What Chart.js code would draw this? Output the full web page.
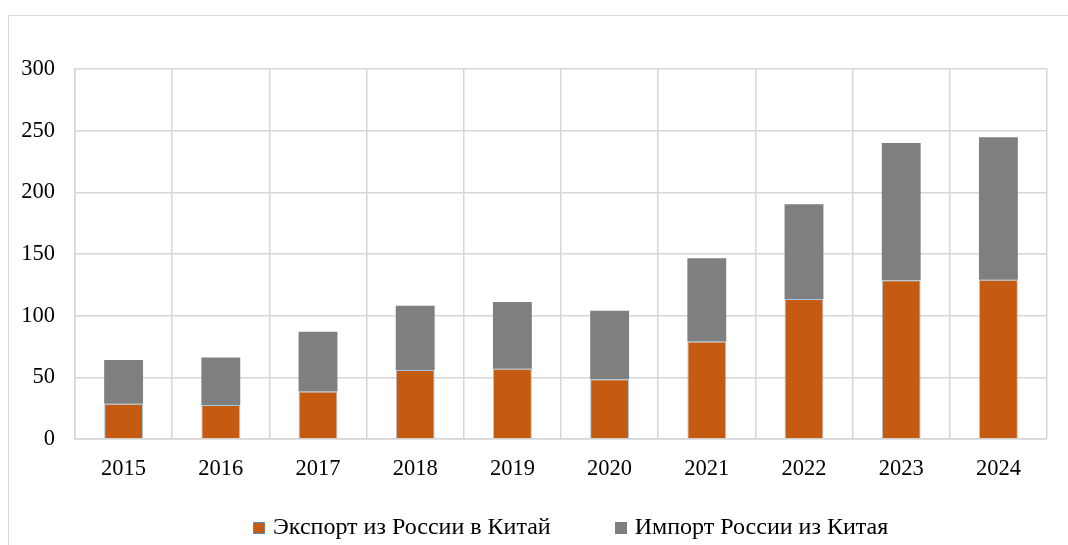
<!DOCTYPE html>
<html lang="ru">
<head>
<meta charset="utf-8">
<title>Торговля России и Китая</title>
<script src="https://cdn.jsdelivr.net/npm/chart.js@4/dist/chart.umd.min.js"></script>
<style>
    html, body {
        margin: 0;
        padding: 0;
        background: #fff;
        overflow: hidden;
    }
    #wrap {
        position: relative;
        width: 1068px;
        height: 545px;
    }
    /* the outer frame of the chart runs off the right and bottom edge */
    #frame {
        position: absolute;
        left: 8px;
        top: 15px;
        width: 1100px;
        height: 600px;
        border: 1px solid #d9d9d9;
        box-sizing: border-box;
    }
    #chart {
        position: absolute;
        left: 0;
        top: 0;
    }
    #legend {
        position: absolute;
        left: 253px;
        top: 513px;
        font-family: 'Liberation Serif';
        font-size: 24px;
        color: #000;
        white-space: nowrap;
    }
    #legend span.item {
        display: inline-block;
        margin-right: 64px;
    }
    #legend span.box {
        display: inline-block;
        width: 12px;
        height: 12px;
        margin-right: 8px;
        box-sizing: border-box;
    }
</style>
</head>
<body>
<div id="wrap">
    <div id="frame"></div>
    <canvas id="chart" width="1068" height="545"></canvas>
    <div id="legend"></div>
</div>

<script>
    // data
    const years = ['2015', '2016', '2017', '2018', '2019', '2020', '2021', '2022', '2023', '2024'];
    const exportRuCn = [28.5, 27.5, 38.5, 56, 57, 48.5, 79, 113.5, 128.7, 129.2];
    const importRuCn = [35.5, 38.5, 48.5, 52, 54, 55.5, 67.5, 76.8, 111.3, 115.4];
    const seriesNames = ['Экспорт из России в Китай', 'Импорт России из Китая'];
    const yTicks = [0, 50, 100, 150, 200, 250, 300];

    const ORANGE = '#c55a11';
    const GREY = '#7f7f7f';
    const GRID = '#d6d6d6';
    const FONT = {family: 'Liberation Serif', size: 22.5};

    const chart = new Chart(document.getElementById('chart'), {
        type: 'bar',
        data: {
            labels: years,
            datasets: [{
                label: seriesNames[0],
                data: exportRuCn,
                backgroundColor: ORANGE,
                borderColor: 'rgba(91, 155, 213, 0.55)',
                borderWidth: {left: 1, right: 1, top: 1, bottom: 0},
                borderSkipped: false,
                barPercentage: 0.4,
                categoryPercentage: 1
            }, {
                label: seriesNames[1],
                data: importRuCn,
                backgroundColor: GREY,
                borderWidth: 0,
                barPercentage: 0.4,
                categoryPercentage: 1
            }]
        },
        options: {
            responsive: false,
            animation: false,
            layout: {
                padding: {left: 20, right: 21, top: 69, bottom: 56}
            },
            plugins: {
                legend: {display: false},
                tooltip: {enabled: false}
            },
            scales: {
                x: {
                    stacked: true,
                    grid: {color: GRID, lineWidth: 1.5, drawTicks: false, offset: true},
                    border: {color: GRID, width: 1.5},
                    ticks: {color: '#000', font: FONT, padding: 17},
                    afterFit: function (scale) {
                        scale.height = 50;
                    }
                },
                y: {
                    stacked: true,
                    min: yTicks[0],
                    max: yTicks[yTicks.length - 1],
                    grid: {color: GRID, lineWidth: 1.5, drawTicks: false},
                    border: {color: GRID, width: 1.5},
                    afterBuildTicks: function (scale) {
                        scale.ticks = yTicks.map(v => ({value: v}));
                    },
                    ticks: {color: '#000', font: FONT, padding: 20},
                    afterFit: function (scale) {
                        scale.width = 55;
                    }
                }
            }
        }
    });

    // legend below the chart
    const legendColors = [ORANGE, GREY];
    const legend = document.getElementById('legend');
    chart.data.datasets.forEach(function (ds, i) {
        const item = document.createElement('span');
        item.className = 'item';
        const box = document.createElement('span');
        box.className = 'box';
        box.style.background = legendColors[i];
        if (i === 0) {
            box.style.border = '1px dotted #5b9bd5';
        }
        item.appendChild(box);
        item.appendChild(document.createTextNode(ds.label));
        legend.appendChild(item);
    });
</script>
</body>
</html>
